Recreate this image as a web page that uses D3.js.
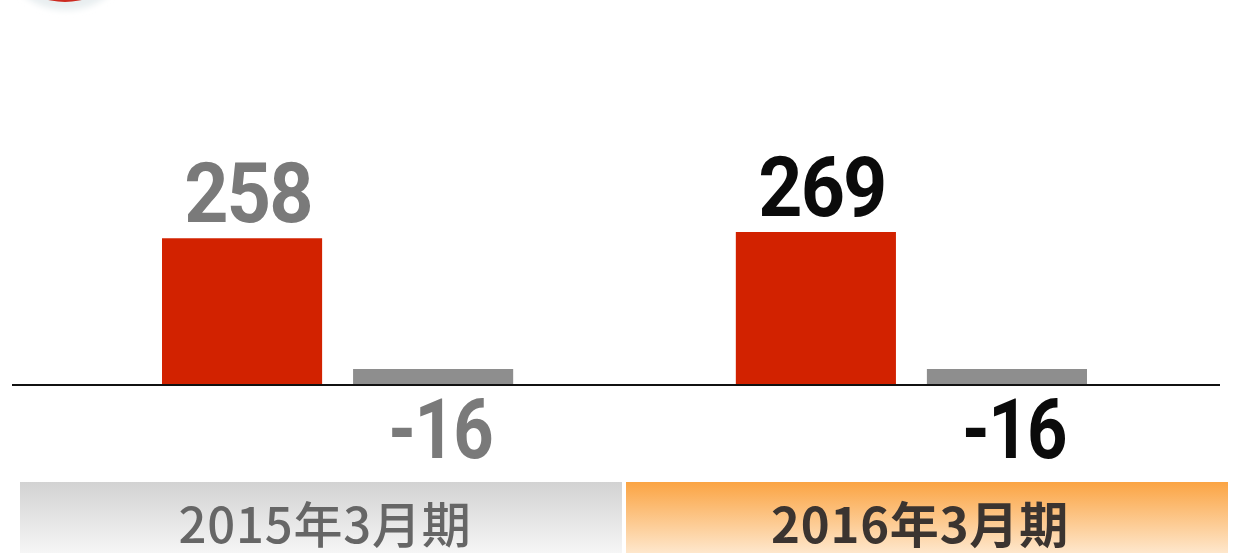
<!DOCTYPE html>
<html>
<head>
<meta charset="utf-8">
<script src="https://cdn.jsdelivr.net/npm/d3@7/dist/d3.min.js"></script>
<style>
  html, body { margin: 0; padding: 0; background: #fff; }
  svg { display: block; }
</style>
</head>
<body>
<div id="chart"></div>
<script>
// data
var categories  = ["2015年3月期", "2016年3月期"];
var seriesKeys  = ["profit", "loss"];
var profitVals  = [258, 269];
var lossVals    = [-16, -16];

var W = 1233, H = 553;
var baseY = 385;

var svg = d3.select("#chart").append("svg")
    .attr("width", W)
    .attr("height", H);

var defs = svg.append("defs");

// band gradients
var gGray = defs.append("linearGradient").attr("id", "gradGray")
    .attr("x1", 0).attr("y1", 0).attr("x2", 0).attr("y2", 1);
gGray.append("stop").attr("offset", "0%").attr("stop-color", "#d2d2d2");
gGray.append("stop").attr("offset", "100%").attr("stop-color", "#f6f6f6");

var gOrange = defs.append("linearGradient").attr("id", "gradOrange")
    .attr("x1", 0).attr("y1", 0).attr("x2", 0).attr("y2", 1);
gOrange.append("stop").attr("offset", "0%").attr("stop-color", "#fba443");
gOrange.append("stop").attr("offset", "100%").attr("stop-color", "#fee7cc");

var blur = defs.append("filter").attr("id", "soft")
    .attr("x", "-50%").attr("y", "-50%").attr("width", "200%").attr("height", "200%");
blur.append("feGaussianBlur").attr("stdDeviation", 3);

// partial red icon at top-left
svg.append("circle")
    .attr("cx", 66).attr("cy", -60).attr("r", 70)
    .attr("fill", "#e8eef0")
    .attr("filter", "url(#soft)");
svg.append("circle")
    .attr("cx", 65).attr("cy", -70).attr("r", 72)
    .attr("fill", "#cc2a20");

// scales
var xBand = d3.scaleBand()
    .domain(categories)
    .range([20, 1228])
    .paddingInner(0.0066);

var x0 = d3.scaleBand()
    .domain(categories)
    .range([162, 1087])
    .paddingInner(0.388);

var x1 = d3.scaleBand()
    .domain(seriesKeys)
    .range([0, x0.bandwidth()])
    .paddingInner(0.162);

var yProfit = d3.scaleLinear().domain([0, 269]).range([baseY, 232]);
var yLoss   = d3.scaleLinear().domain([0, 16]).range([baseY, 369]);

var labelColor = ["#7a7a7a", "#0b0b0b"];
var catNudge = [4, -7];

function squeeze(x, y, sx) {
  return "translate(" + x + "," + y + ") scale(" + sx + ",1)";
}

// category bands
var bands = svg.append("g").selectAll("g")
    .data(categories)
    .enter().append("g");

bands.append("rect")
    .attr("x", function (d) { return xBand(d); })
    .attr("y", 482)
    .attr("width", xBand.bandwidth())
    .attr("height", H - 482)
    .attr("fill", function (d, i) { return i === 0 ? "url(#gradGray)" : "url(#gradOrange)"; });

bands.append("text")
    .attr("x", function (d, i) { return xBand(d) + xBand.bandwidth() / 2 + catNudge[i]; })
    .attr("y", 543)
    .attr("text-anchor", "middle")
    .attr("font-family", "'Noto Sans CJK JP', 'Noto Sans', sans-serif")
    .attr("font-size", 49)
    .attr("letter-spacing", 0.8)
    .attr("font-weight", function (d, i) { return i === 0 ? 500 : 700; })
    .attr("fill", function (d, i) { return i === 0 ? "#666666" : "#3b3430"; })
    .text(function (d) { return d; });

// bars
var groups = svg.append("g").selectAll("g")
    .data(categories)
    .enter().append("g")
    .attr("transform", function (d) { return "translate(" + x0(d) + ",0)"; });

groups.append("rect")
    .attr("x", x1("profit"))
    .attr("y", function (d, i) { return yProfit(profitVals[i]); })
    .attr("width", x1.bandwidth())
    .attr("height", function (d, i) { return baseY - yProfit(profitVals[i]); })
    .attr("fill", "#d22200");

groups.append("rect")
    .attr("x", x1("loss"))
    .attr("y", function (d, i) { return yLoss(Math.abs(lossVals[i])); })
    .attr("width", x1.bandwidth())
    .attr("height", function (d, i) { return baseY - yLoss(Math.abs(lossVals[i])); })
    .attr("fill", "#8e8e8e");

// value labels
groups.append("text")
    .attr("transform", function (d, i) {
      return squeeze(x1("profit") + x1.bandwidth() / 2 + 6, yProfit(profitVals[i]) - 16, 0.92);
    })
    .attr("text-anchor", "middle")
    .attr("font-family", "Roboto, sans-serif")
    .attr("font-weight", 700)
    .attr("font-size", 84)
    .attr("letter-spacing", -2)
    .attr("fill", function (d, i) { return labelColor[i]; })
    .text(function (d, i) { return profitVals[i]; });

groups.append("text")
    .attr("transform", function (d, i) {
      return squeeze(x1("loss") + x1.bandwidth() / 2 + 7, baseY + 73, 0.84);
    })
    .attr("text-anchor", "middle")
    .attr("font-family", "Roboto, sans-serif")
    .attr("font-weight", 700)
    .attr("font-size", 84)
    .attr("letter-spacing", -2)
    .attr("fill", function (d, i) { return labelColor[i]; })
    .text(function (d, i) { return lossVals[i]; });

// baseline
svg.append("line")
    .attr("x1", 12).attr("x2", 1220)
    .attr("y1", baseY).attr("y2", baseY)
    .attr("stroke", "#111")
    .attr("stroke-width", 2);
</script>
</body>
</html>
